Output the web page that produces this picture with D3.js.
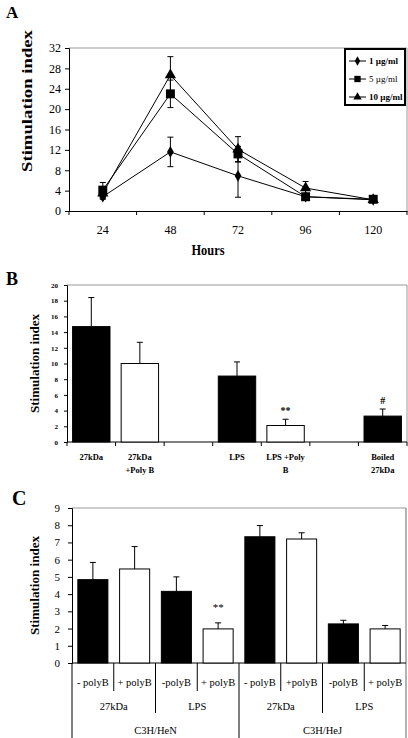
<!DOCTYPE html>
<html><head><meta charset="utf-8">
<script src="https://cdn.jsdelivr.net/npm/d3@7"></script>
<style>body{margin:0;background:#fff}svg{display:block}</style>
</head><body>
<script>
// ---------- Panel A data ----------
const hours = ["24","48","72","96","120"];
const seriesNames = ["1 \u00b5g/ml","5 \u00b5g/ml","10 \u00b5g/ml"];
const val1 = [2.8, 11.6, 6.9, 2.8, 2.2];
const err1 = [0.5, 2.9, 4.2, 0.3, 0.2];
const val5 = [4.1, 23.0, 11.2, 2.8, 2.3];
const err5 = [1.5, 2.7, 1.5, 0.3, 0.2];
const val10 = [3.5, 26.7, 12.1, 4.5, 2.2];
const err10 = [1.0, 3.6, 2.5, 1.3, 0.2];
const yTicksA = [0,4,8,12,16,20,24,28,32];

// ---------- Panel B data ----------
const catsB = ["27kDa|", "27kDa|+Poly B", "", "LPS|", "LPS +Poly|B", " ", "Boiled|27kDa"];
const valB = [14.7, 10.0, null, 8.4, 2.1, null, 3.3];
const errB = [3.7, 2.7, null, 1.8, 0.8, null, 0.9];
const fillB = ["black","white",null,"black","white",null,"black"];
const markB = ["","",null,"","**",null,"#"];
const yTicksB = [0,2,4,6,8,10,12,14,16,18,20];

// ---------- Panel C data ----------
const catsC = ["- polyB","+ polyB","-polyB","+ polyB","- polyB","+polyB","-polyB","+ polyB"];
const valC = [4.84, 5.46, 4.16, 1.98, 7.33, 7.2, 2.27, 1.98];
const errC = [1.0, 1.3, 0.84, 0.35, 0.65, 0.36, 0.21, 0.2];
const fillC = ["black","white","black","white","black","white","black","white"];
const markC = ["","","","**","","","",""];
const groupsC = ["27kDa","LPS","27kDa","LPS"];
const strainsC = ["C3H/HeN","C3H/HeJ"];
const yTicksC = [0,1,2,3,4,5,6,7,8,9];

const FONT = "'Liberation Serif','Times New Roman',serif";
const svg = d3.select("body").append("svg").attr("width",408).attr("height",738);

// ===== Panel A =====
(function(){
  const L=69,R=407,T=48,B=211;
  const x = d3.scaleBand().domain(hours).range([L,R]);
  const y = d3.scaleLinear().domain([0,32]).range([B,T]);
  const g = svg.append("g");
  g.append("text").attr("x",6).attr("y",18).attr("font-size",17).attr("font-weight","bold").text("A");
  g.append("line").attr("x1",L).attr("x2",R).attr("y1",T).attr("y2",T).attr("stroke","#999");
  g.append("line").attr("x1",R).attr("x2",R).attr("y1",T).attr("y2",B).attr("stroke","#999");
  const ya = g.append("g").attr("transform",`translate(${L},0)`).call(d3.axisLeft(y).tickValues(yTicksA).tickSize(4).tickPadding(4));
  ya.selectAll("text").attr("font-size",12);
  const xa = g.append("g").attr("transform",`translate(0,${B})`).call(d3.axisBottom(x).tickSize(0).tickPadding(14));
  xa.selectAll("text").attr("font-size",12);
  const edges = hours.map(h=>x(h)).concat([R]);
  g.selectAll(".dv").data(edges).enter().append("line").attr("x1",d=>d).attr("x2",d=>d).attr("y1",B).attr("y2",B+4).attr("stroke","#000");
  g.selectAll(".domain").attr("stroke","#000");
  g.append("text").attr("x",208).attr("y",255).attr("text-anchor","middle").attr("font-size",14).attr("font-weight","bold").attr("textLength",33).attr("lengthAdjust","spacingAndGlyphs").text("Hours");
  g.append("text").attr("transform",`translate(32,101) rotate(-90)`).attr("text-anchor","middle").attr("font-size",14).attr("font-weight","bold").attr("textLength",142).attr("lengthAdjust","spacingAndGlyphs").text("Stimulation index");
  const cx = h=>x(h)+x.bandwidth()/2;
  const series=[{v:val1,e:err1,m:"diamond"},{v:val5,e:err5,m:"square"},{v:val10,e:err10,m:"triangle"}];
  const sym = {diamond:d3.symbol().type(d3.symbolDiamond).size(40), square:d3.symbol().type(d3.symbolSquare).size(80), triangle:d3.symbol().type(d3.symbolTriangle).size(55)};
  series.forEach(s=>{
    const pts = hours.map((h,i)=>({h,v:s.v[i],e:s.e[i]}));
    g.append("path").datum(pts).attr("fill","none").attr("stroke","#000").attr("stroke-width",1)
      .attr("d",d3.line().x(d=>cx(d.h)).y(d=>y(d.v)));
    pts.forEach(p=>{
      g.append("line").attr("x1",cx(p.h)).attr("x2",cx(p.h)).attr("y1",y(p.v-p.e)).attr("y2",y(p.v+p.e)).attr("stroke","#000");
      [p.v-p.e,p.v+p.e].forEach(t=>g.append("line").attr("x1",cx(p.h)-3).attr("x2",cx(p.h)+3).attr("y1",y(t)).attr("y2",y(t)).attr("stroke","#000"));
      g.append("path").attr("d",sym[s.m]()).attr("transform",`translate(${cx(p.h)},${y(p.v)})`).attr("fill","#000");
    });
  });
  const lg = g.append("g");
  lg.append("rect").attr("x",345).attr("y",49).attr("width",60).attr("height",56).attr("fill","#fff").attr("stroke","#000").attr("stroke-width",2);
  const ms=[d3.symbol().type(d3.symbolDiamond).size(25),d3.symbol().type(d3.symbolSquare).size(40),d3.symbol().type(d3.symbolTriangle).size(30)];
  seriesNames.forEach((n,i)=>{
    const yy = 61+i*18;
    lg.append("line").attr("x1",349).attr("x2",366).attr("y1",yy).attr("y2",yy).attr("stroke","#000");
    lg.append("path").attr("d",ms[i]()).attr("transform",`translate(357.5,${yy})`).attr("fill","#000");
    lg.append("text").attr("x",369).attr("y",yy+3).attr("font-size",9).attr("font-weight",i==1?"normal":"bold").text(n);
  });
})();

// ===== Panel B =====
(function(){
  const L=67,R=407,T=285,B=442;
  const x = d3.scaleBand().domain(catsB).range([L,R]).paddingInner(0.23).paddingOuter(0.115);
  const xb = d3.scaleBand().domain(catsB).range([L,R]);
  const y = d3.scaleLinear().domain([0,20]).range([B,T]);
  const g = svg.append("g");
  g.append("text").attr("x",6).attr("y",285).attr("font-size",18).attr("font-weight","bold").text("B");
  g.append("line").attr("x1",L).attr("x2",R).attr("y1",T).attr("y2",T).attr("stroke","#999");
  g.append("line").attr("x1",R).attr("x2",R).attr("y1",T).attr("y2",B).attr("stroke","#999");
  const ya = g.append("g").attr("transform",`translate(${L},0)`).call(d3.axisLeft(y).tickValues(yTicksB).tickSize(3).tickPadding(6));
  ya.selectAll("text").attr("font-size",7).attr("font-weight","bold");
  g.selectAll(".domain").attr("stroke","#000");
  g.append("line").attr("x1",L).attr("x2",R).attr("y1",B).attr("y2",B).attr("stroke","#000");
  const edges = catsB.map(c=>xb(c)).concat([R]);
  g.selectAll(".dv").data(edges).enter().append("line").attr("x1",d=>d).attr("x2",d=>d).attr("y1",B).attr("y2",B+4).attr("stroke","#000");
  g.append("text").attr("transform",`translate(39,${(T+B)/2}) rotate(-90)`).attr("text-anchor","middle").attr("font-size",13).attr("font-weight","bold").attr("textLength",99).attr("lengthAdjust","spacingAndGlyphs").text("Stimulation index");
  catsB.forEach((c,i)=>{
    const cx = xb(c)+xb.bandwidth()/2;
    if(valB[i]!=null){
      g.append("rect").attr("x",x(c)).attr("y",y(valB[i])).attr("width",x.bandwidth()).attr("height",B-y(valB[i])).attr("fill",fillB[i]).attr("stroke","#000").attr("stroke-width",1);
      g.append("line").attr("x1",cx).attr("x2",cx).attr("y1",y(valB[i])).attr("y2",y(valB[i]+errB[i])).attr("stroke","#000");
      g.append("line").attr("x1",cx-3).attr("x2",cx+3).attr("y1",y(valB[i]+errB[i])).attr("y2",y(valB[i]+errB[i])).attr("stroke","#000");
      if(markB[i]) g.append("text").attr("x",cx).attr("y",y(valB[i]+errB[i])-5).attr("text-anchor","middle").attr("font-size",10).attr("font-weight","bold").text(markB[i]);
    }
    const parts = c.split("|");
    parts.forEach((p,j)=>g.append("text").attr("x",cx).attr("y",460+j*13).attr("text-anchor","middle").attr("font-size",8.5).attr("font-weight","bold").text(p));
  });
})();

// ===== Panel C =====
(function(){
  const L=72,R=406,T=508,B=663;
  const xb = d3.scaleBand().domain(d3.range(catsC.length)).range([L,R]);
  const x = d3.scaleBand().domain(d3.range(catsC.length)).range([L,R]).paddingInner(0.28).paddingOuter(0.14);
  const y = d3.scaleLinear().domain([0,9]).range([B,T]);
  const g = svg.append("g");
  g.append("text").attr("x",12).attr("y",505).attr("font-size",20).attr("font-weight","bold").text("C");
  g.append("line").attr("x1",L).attr("x2",R).attr("y1",T).attr("y2",T).attr("stroke","#999");
  g.append("line").attr("x1",R).attr("x2",R).attr("y1",T).attr("y2",738).attr("stroke","#666");
  const ya = g.append("g").attr("transform",`translate(${L},0)`).call(d3.axisLeft(y).tickValues(yTicksC).tickSize(4).tickPadding(8));
  ya.selectAll("text").attr("font-size",11);
  g.selectAll(".domain").attr("stroke","#000");
  g.append("line").attr("x1",L).attr("x2",L).attr("y1",B).attr("y2",738).attr("stroke","#000");
  g.append("line").attr("x1",L).attr("x2",R).attr("y1",B).attr("y2",B).attr("stroke","#000");
  g.append("text").attr("transform",`translate(39,${(T+B)/2}) rotate(-90)`).attr("text-anchor","middle").attr("font-size",13).attr("font-weight","bold").attr("textLength",99).attr("lengthAdjust","spacingAndGlyphs").text("Stimulation index");
  catsC.forEach((c,i)=>{
    const cx = xb(i)+xb.bandwidth()/2;
    g.append("rect").attr("x",x(i)).attr("y",y(valC[i])).attr("width",x.bandwidth()).attr("height",B-y(valC[i])).attr("fill",fillC[i]).attr("stroke","#000").attr("stroke-width",1);
    g.append("line").attr("x1",cx).attr("x2",cx).attr("y1",y(valC[i])).attr("y2",y(valC[i]+errC[i])).attr("stroke","#000");
    g.append("line").attr("x1",cx-3).attr("x2",cx+3).attr("y1",y(valC[i]+errC[i])).attr("y2",y(valC[i]+errC[i])).attr("stroke","#000");
    if(markC[i]) g.append("text").attr("x",cx).attr("y",y(valC[i]+errC[i])-12).attr("text-anchor","middle").attr("font-size",11).text(markC[i]);
    g.append("text").attr("x",cx).attr("y",686).attr("text-anchor","middle").attr("font-size",10.5).text(c);
    if(i>0){
      const ex = xb(i);
      const y2 = i%4==0 ? 738 : (i%2==0 ? 713 : 691);
      g.append("line").attr("x1",ex).attr("x2",ex).attr("y1",B).attr("y2",y2).attr("stroke","#000");
    }
  });
  const gw = xb.bandwidth()*2;
  groupsC.forEach((t,i)=>g.append("text").attr("x",L+gw*i+gw/2).attr("y",710).attr("text-anchor","middle").attr("font-size",10.5).text(t));
  const sw = xb.bandwidth()*4;
  strainsC.forEach((t,i)=>g.append("text").attr("x",L+sw*i+sw/2).attr("y",734).attr("text-anchor","middle").attr("font-size",10.5).text(t));
})();

svg.selectAll("g").attr("font-family",null);
svg.selectAll("text").style("font-family",FONT).attr("fill","#000");
</script>
</body></html>
